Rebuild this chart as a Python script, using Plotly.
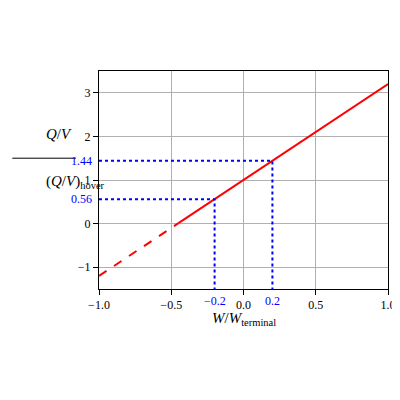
import numpy as np
import plotly.graph_objects as go

slope = 2.2
x_dashed = [-1.0, -0.45]
x_solid = [-0.45, 1.0]
marks_x = [-0.2, 0.2]
marks_y = [0.56, 1.44]
xticks = [-1.0, -0.5, 0.0, 0.5, 1.0]
yticks = [-1, 0, 1, 2, 3]

def f(x):
    return 1 + slope * np.array(x)

fig = go.Figure()
fig.add_trace(go.Scatter(x=x_dashed, y=f(x_dashed), mode="lines",
                         line=dict(color="red", width=2, dash="dash")))
fig.add_trace(go.Scatter(x=x_solid, y=f(x_solid), mode="lines",
                         line=dict(color="red", width=2)))
for mx, my in zip(marks_x, marks_y):
    fig.add_trace(go.Scatter(x=[-1.0, mx, mx], y=[my, my, -1.5], mode="lines",
                             line=dict(color="blue", width=2, dash="dot")))

font = dict(family="Liberation Serif", size=12, color="black")
for mx in marks_x:
    fig.add_annotation(x=mx, y=0, yref="paper", yanchor="top", yshift=-3, text=f"{mx:.1f}".replace("-", "−"),
                       showarrow=False, font=dict(family="Liberation Serif", size=12, color="blue"))
for my in marks_y:
    fig.add_annotation(x=0, xref="paper", y=my, xanchor="right", xshift=-5, text=f"{my:.2f}",
                       showarrow=False, font=dict(family="Liberation Serif", size=12, color="blue"))

fig.add_annotation(x=-0.19, xref="paper", y=2.05, text="<i>Q</i>/<i>V</i>", showarrow=False,
                   font=dict(family="Liberation Serif", size=15, color="black"))
fig.add_annotation(x=-0.19, xref="paper", y=0.95, text="(<i>Q</i>/<i>V</i>)<sub>hover</sub>", showarrow=False,
                   font=dict(family="Liberation Serif", size=15, color="black"))
fig.add_shape(type="line", xref="paper", x0=-0.3, x1=-0.08, y0=1.5, y1=1.5,
              line=dict(color="black", width=1))
fig.add_annotation(x=0, y=-0.19, yref="paper", text="<i>W</i>/<i>W</i><sub>terminal</sub>", showarrow=False,
                   font=dict(family="Liberation Serif", size=15, color="black"))

axis = dict(showgrid=True, gridcolor="#b0b0b0", showline=True, linecolor="black", mirror=True,
            ticks="outside", tickcolor="black", zeroline=False, tickfont=font)
fig.update_xaxes(range=[-1, 1], tickvals=xticks, ticktext=[f"{v:.1f}".replace("-", "−") for v in xticks], **axis)
fig.update_yaxes(range=[-1.5, 3.5], tickvals=yticks, ticktext=[str(v).replace("-", "−") for v in yticks], **axis)
fig.update_layout(width=400, height=400, showlegend=False, plot_bgcolor="white", paper_bgcolor="white",
                  margin=dict(l=91, r=15, t=63, b=119), font=font)
fig.write_html("out.html")
